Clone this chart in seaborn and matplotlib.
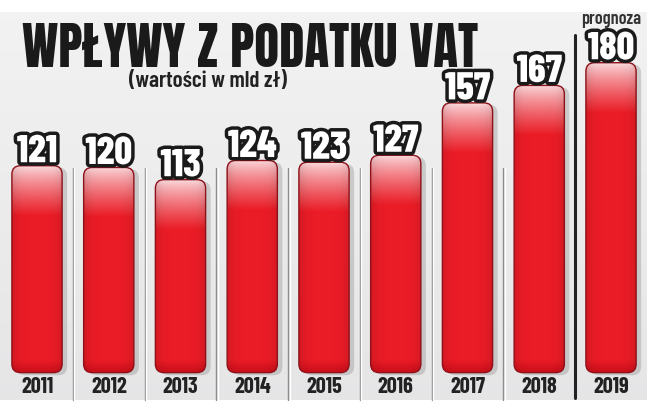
import numpy as np
import pandas as pd
import matplotlib
matplotlib.use("Agg")
import matplotlib.pyplot as plt
import matplotlib.patheffects as pe
from matplotlib.patches import FancyBboxPatch
import seaborn as sns

years = ["2011", "2012", "2013", "2014", "2015", "2016", "2017", "2018", "2019"]
values = [121, 120, 113, 124, 123, 127, 157, 167, 180]
title = "WPŁYWY Z PODATKU VAT"
subtitle = "(wartości w mld zł)"
forecast_label = "prognoza"

sns.set_theme(style="white")
FAM = ["Barlow Condensed", "Asap Condensed", "DejaVu Sans"]
HEAVY = ["Anton", "Barlow Condensed", "DejaVu Sans"]
plt.rcParams["font.family"] = FAM

W, H = 664, 413
fig = plt.figure(figsize=(W / 100, H / 100), dpi=100)
fig.patch.set_facecolor("white")

# background panel with gradient
bg = fig.add_axes([0, 13 / H, 647 / W, 388 / H])
grad = np.linspace(0, 1, 256)[:, None]
top_c = np.array([0.95, 0.95, 0.95])
bot_c = np.array([0.90, 0.90, 0.905])
img = top_c[None, None, :] * (1 - grad[..., None]) + bot_c[None, None, :] * grad[..., None]
bg.imshow(img, aspect="auto", extent=[0, 1, 0, 1])
bg.set_axis_off()

ax = fig.add_axes([0, 0, 1, 1])
ax.patch.set_alpha(0)
px_x = 71.75
px_y = 1.746
x0_px = 37
y0_px = 377
ax.set_xlim(-x0_px / px_x, (W - x0_px) / px_x)
ax.set_ylim(-(H - y0_px) / px_y, y0_px / px_y)

df = pd.DataFrame({"year": years, "value": values})
sns.barplot(data=df, x="year", y="value", ax=ax, width=0.7, color="#e8202a",
            saturation=1, zorder=3)

red = np.array([0.92, 0.11, 0.15])
pale = np.array([0.98, 0.86, 0.87])
dark = np.array([0.78, 0.05, 0.10])
aspect = (1 / px_y) / (1 / px_x)
rects = list(ax.patches)
for r in rects:
    x, y, w, h = r.get_x(), r.get_y(), r.get_width(), r.get_height()
    r.remove()
    sh = FancyBboxPatch((x + 0.07, y + 1.0), w, h - 2.0,
                        boxstyle="round,pad=0,rounding_size=0.12",
                        mutation_aspect=aspect, fc="#8a8a8a", ec="none",
                        alpha=0.35, zorder=2)
    ax.add_patch(sh)
    p = FancyBboxPatch((x, y + 2.5), w, h - 2.5,
                       boxstyle="round,pad=0,rounding_size=0.12",
                       mutation_aspect=aspect, fc="none", ec="#8e1018",
                       lw=1.0, zorder=4)
    ax.add_patch(p)
    npx = int(h * px_y)
    d = np.arange(npx)[:, None].astype(float)
    t = np.clip(d / 50.0, 0, 1) ** 0.8
    col = pale[None, None, :] * (1 - t[..., None]) + red[None, None, :] * t[..., None]
    b = np.clip((d - (npx - 14)) / 14.0, 0, 1)
    col = col * (1 - b[..., None]) + dark[None, None, :] * b[..., None]
    xs = np.linspace(-1, 1, 40)[None, :]
    edge = 1 - 0.10 * np.abs(xs) ** 4
    col = col * edge[..., None]
    im = ax.imshow(col, aspect="auto", extent=[x, x + w, y + 2.5, h],
                   zorder=3, interpolation="bilinear")
    im.set_clip_path(p)

ax.set_xlim(-x0_px / px_x, (W - x0_px) / px_x)
ax.set_ylim(-(H - y0_px) / px_y, y0_px / px_y)

# separators
for i in range(len(years) - 1):
    if i == len(years) - 2:
        ax.axvline(i + 0.5, ymin=15 / H, ymax=(H - 35) / H, color="#222222",
                   lw=2.2, zorder=1)
    else:
        ax.axvline(i + 0.5, ymin=13 / H, ymax=(H - 168) / H, color="#8c8c8c",
                   lw=1.0, zorder=1)
        ax.axvline(i + 0.5 + 0.02, ymin=13 / H, ymax=(H - 168) / H,
                   color="#ffffff", lw=1.0, zorder=1)

# value labels and year labels
for i, v in enumerate(values):
    ax.text(i, v + 2.0, str(v), ha="center", va="baseline", fontsize=28,
            fontweight=800, color="white", zorder=6,
            path_effects=[pe.SimplePatchShadow(offset=(1.5, -1.5), shadow_rgbFace="#555555", alpha=0.6),
                          pe.withStroke(linewidth=5, foreground="#1a1a1a")])
    ax.text(i, -5.5, years[i], ha="center", va="center", fontsize=16,
            fontweight=700, color="#222222", zorder=6)

ax.set_axis_off()

t1 = fig.text(22 / W, (H - 67) / H, title, ha="left", va="baseline", fontsize=40,
              color="#1a1a1a", family=HEAVY)
t2 = fig.text(208 / W, (H - 81) / H, subtitle, ha="center", va="center", fontsize=16,
              fontweight=600, color="#222222")
t3 = fig.text(611 / W, (H - 20) / H, forecast_label, ha="center", va="center",
              fontsize=12, fontweight=600, color="#333333")

# fit text widths to the reference
fig.canvas.draw()
rend = fig.canvas.get_renderer()
for t, target in ((t1, 456), (t2, 158), (t3, 60)):
    wpx = t.get_window_extent(rend).width
    t.set_fontsize(t.get_fontsize() * target / wpx)

fig.savefig("out.png", dpi=100)
